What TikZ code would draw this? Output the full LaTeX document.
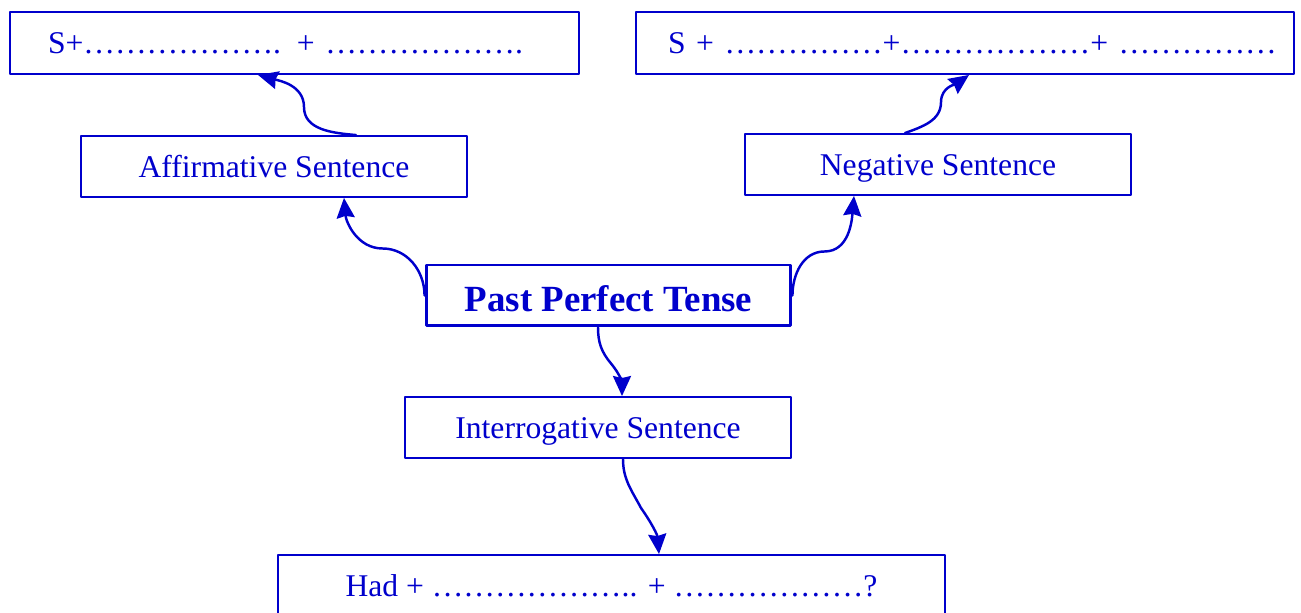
\documentclass[tikz,border=0pt]{standalone}
\usepackage{fontspec}
\setmainfont{Liberation Serif}
\usetikzlibrary{arrows.meta}
\definecolor{tenseblue}{RGB}{0,0,204}
\begin{document}
\begin{tikzpicture}[x=0.02cm,y=0.02cm,>={Stealth[length=0.4cm,width=0.36cm,inset=0.04cm]}, line join=round, line cap=round,
	box/.style={draw=tenseblue,line width=1.1pt,text=tenseblue,inner sep=0pt,minimum height=1.22cm,text height=0.44cm,text depth=0pt,font=\fontsize{18}{20}\selectfont},
	formbox/.style={box,minimum height=1.24cm,align=left},
	link/.style={->,draw=tenseblue,line width=1.4pt}]
	\useasboundingbox (0,0) rectangle (1301,612);
	\node[formbox,minimum width=11.38cm,text width=9.86cm] (affform) at (294.5,569) {\mbox{S+………………. + ……………….}};
	\node[formbox,minimum width=13.16cm,text width=11.88cm] (negform) at (965,569) {\mbox{S + ……………+………………+ ……………}};
	\node[box,minimum width=7.72cm] (aff) at (274,445.5) {Affirmative Sentence};
	\node[box,minimum width=7.72cm] (neg) at (938,447.5) {Negative Sentence};
	\node[box,minimum width=7.3cm,line width=1.7pt,text height=0.66cm,font=\fontsize{21}{24}\selectfont\bfseries] (ppt) at (608.5,316.5) {Past Perfect Tense};
	\node[box,minimum width=7.72cm] (int) at (598,184.5) {Interrogative Sentence};
	\node[box,minimum width=13.34cm,minimum height=1.24cm] (intform) at (611.5,26) {Had + ……………….. + ………………?};
	\draw[link] ([xshift=1.64cm]aff.north) to[out=175,in=-90] ++(-52,28) to[out=90,in=-15] ([xshift=-0.73cm]affform.south);
	\draw[link] ([xshift=-0.66cm]neg.north) to[out=20,in=-90] ++(36,31) to[out=90,in=-145] ([xshift=0.08cm]negform.south);
	\draw[link] (ppt.west) to[out=90,in=0] ++(-42,47) to[out=180,in=-85] ([xshift=1.4cm]aff.south);
	\draw[link] (ppt.east) to[out=90,in=180] ++(32,44) to[out=0,in=-95] ([xshift=-1.68cm]neg.south);
	\draw[link] ([xshift=-0.21cm]ppt.south) to[out=-90,in=130] ++(13,-36) to[out=-50,in=90] ([xshift=0.48cm]int.north);
	\draw[link] ([xshift=0.5cm]int.south) to[out=-90,in=118] ++(18,-49) to[out=-55,in=95] ([xshift=0.95cm]intform.north);
\end{tikzpicture}
\end{document}
